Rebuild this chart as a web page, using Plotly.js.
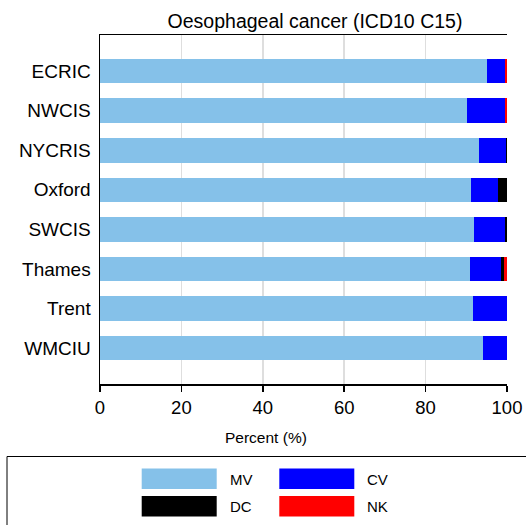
<!DOCTYPE html>
<html>
<head>
<meta charset="utf-8">
<script src="https://cdn.plot.ly/plotly-3.0.1.min.js"></script>
<style>html,body{margin:0;padding:0;background:#fff;}#chart{width:526px;height:525px;}</style>
</head>
<body>
<div id="chart"></div>
<script>
const sites = ['ECRIC','NWCIS','NYCRIS','Oxford','SWCIS','Thames','Trent','WMCIU'];
const mv = [95.0, 90.2, 93.1, 91.2, 91.9, 90.9, 91.7, 94.2];
const cv = [4.5, 9.3, 6.7, 6.6, 7.7, 7.7, 8.3, 5.8];
const dc = [0, 0, 0.2, 2.2, 0.4, 0.6, 0, 0];
const nk = [0.5, 0.5, 0, 0, 0, 0.8, 0, 0];
const seriesNames = ['MV','CV','DC','NK'];
const seriesColors = ['#85c1e9','#0000ff','#000000','#ff0000'];
const seriesValues = [mv, cv, dc, nk];
const xTicks = [0, 20, 40, 60, 80, 100];

const FONT = 'Liberation Sans, Arial, Helvetica, sans-serif';

// plot area in pixels
const L = 100, R = 507, T = 35, B = 384;
const px = x => (x - L) / (R - L);
const py = y => (B - y) / (B - T);

const traces = seriesNames.map((n, i) => ({
  type: 'bar', orientation: 'h', name: n,
  y: sites, x: seriesValues[i],
  marker: {color: seriesColors[i], line: {width: 0}},
  hoverinfo: 'x+y+name'
}));

// legend (2x2 grid) built from series names/colours
const shapes = [{type: 'rect', xref: 'paper', yref: 'paper',
  x0: px(7), x1: px(560), y0: py(456.5), y1: py(560),
  line: {color: '#000', width: 1}, fillcolor: 'rgba(0,0,0,0)'}];
const annotations = [];
const colX = [141.7, 279.3];
const rowY = [468.5, 496];
seriesNames.forEach((n, i) => {
  const c = i % 2, r = Math.floor(i / 2);
  shapes.push({type: 'rect', xref: 'paper', yref: 'paper',
    x0: px(colX[c]), x1: px(colX[c] + 75), y0: py(rowY[r]), y1: py(rowY[r] + 20.5),
    line: {width: 0}, fillcolor: seriesColors[i]});
  annotations.push({xref: 'paper', yref: 'paper', x: px(colX[c] + 86), y: py(rowY[r] + 10.5),
    xanchor: 'left', yanchor: 'middle', text: n, showarrow: false,
    font: {family: FONT, size: 15, color: '#000'}});
});
annotations.push({xref: 'paper', yref: 'paper', x: px(266), y: py(438),
  xanchor: 'center', yanchor: 'middle', text: 'Percent (%)', showarrow: false,
  font: {family: FONT, size: 15.5, color: '#000'}});

const layout = {
  width: 526, height: 525,
  margin: {l: L, r: 526 - R, t: T, b: 525 - B, pad: 0},
  paper_bgcolor: '#fff', plot_bgcolor: '#fff',
  barmode: 'stack', bargap: 0.38,
  showlegend: false,
  title: {text: 'Oesophageal cancer (ICD10 C15)', xref: 'paper', x: px(315), xanchor: 'center',
    yref: 'container', y: 1 - 21.5 / 525, yanchor: 'middle',
    font: {family: FONT, size: 19.5, color: '#000'}},
  xaxis: {range: [0, 100], tickvals: xTicks, ticktext: xTicks.map(String),
    showgrid: true, gridcolor: '#dedede', gridwidth: 1.5, zeroline: false,
    showline: true, linecolor: '#000', linewidth: 1.5, mirror: true,
    ticks: 'outside', ticklen: 6, tickcolor: '#000', tickwidth: 1.5,
    tickfont: {family: FONT, size: 18.5, color: '#000'}, fixedrange: true},
  yaxis: {type: 'category', range: [7.91, -0.915], showgrid: false, zeroline: false,
    showline: true, linecolor: '#000', linewidth: 1.5,
    ticks: 'outside', ticklen: 4, tickcolor: 'rgba(0,0,0,0)',
    tickfont: {family: FONT, size: 19, color: '#000'}, fixedrange: true},
  shapes: shapes,
  annotations: annotations
};

Plotly.newPlot('chart', traces, layout, {displayModeBar: false, staticPlot: true});
</script>
</body>
</html>
